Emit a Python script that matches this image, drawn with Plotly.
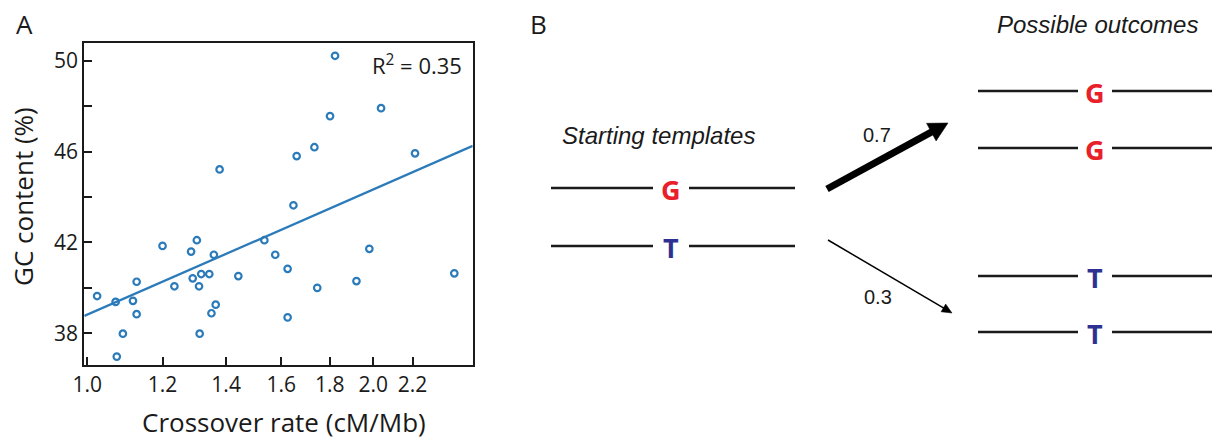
import numpy as np
import plotly.graph_objects as go

# ---------------- Panel A data: crossover rate vs GC content ----------------
crossover_rate = [
    1.823, 2.038, 1.801, 1.734, 1.661, 2.213, 1.378, 1.648, 1.304, 1.536,
    1.200, 1.286, 1.359, 1.577, 1.981, 1.625, 2.434, 1.318, 1.344, 1.291,
    1.442, 1.127, 1.920, 1.235, 1.311, 1.746, 1.024, 1.071, 1.117, 1.365,
    1.127, 1.351, 1.625, 1.090, 1.313, 1.074,
]
gc_content = [
    50.23, 47.92, 47.57, 46.20, 45.81, 45.93, 45.22, 43.64, 42.10, 42.10,
    41.85, 41.60, 41.46, 41.46, 41.72, 40.84, 40.64, 40.61, 40.61, 40.42,
    40.52, 40.27, 40.30, 40.07, 40.07, 40.00, 39.64, 39.38, 39.43, 39.26,
    38.84, 38.88, 38.70, 37.98, 37.98, 36.97,
]

# Regression of GC content on log10(crossover rate)
fit_intercept = 38.82
fit_slope = 18.34
r_squared = 0.35

x_tick_values = [1.0, 1.2, 1.4, 1.6, 1.8, 2.0, 2.2]
x_tick_labels = ["1.0", "1.2", "1.4", "1.6", "1.8", "2.0", "2.2"]
y_tick_values = [38, 42, 46, 50]
y_minor_tick_values = [40, 44, 48]

# ---------------- Panel B data: template outcomes ----------------
start_alleles = ["G", "T"]
outcome_alleles = ["G", "G", "T", "T"]
transition_probs = [0.7, 0.3]

# ---------------- canvas helpers ----------------
W, H = 1217, 444
BLUE = "#2b7bba"
INK = "#1a1a1a"
ALLELE_COLOURS = {"G": "#e8202a", "T": "#2e3192"}
MYRIAD_LIKE = "Open Sans, Noto Sans, sans-serif"
HELV_LIKE = "Liberation Sans, Arial, sans-serif"


def fx(px):
    return px / W


def fy(py):
    return 1 - py / H


x_range = [np.log10(0.9927), np.log10(2.545)]
y_range = [36.6, 50.78]

fig = go.Figure()

fig.add_trace(go.Scatter(
    x=crossover_rate, y=gc_content, mode="markers",
    marker=dict(symbol="circle-open", size=6.5, color=BLUE, line=dict(width=2.2, color=BLUE)),
    showlegend=False, hoverinfo="x+y",
))

line_x = np.logspace(x_range[0], x_range[1], 50)
line_y = fit_intercept + fit_slope * np.log10(line_x)
fig.add_trace(go.Scatter(
    x=line_x, y=line_y, mode="lines",
    line=dict(color=BLUE, width=2.3), showlegend=False, hoverinfo="skip",
))

tick_style = dict(ticks="inside", ticklen=8, tickwidth=2, tickcolor=INK)
axis_common = dict(
    showline=True, linecolor=INK, linewidth=2, mirror=True,
    showgrid=False, zeroline=False, automargin=False,
    tickfont=dict(family=MYRIAD_LIKE, size=21, color=INK),
    **tick_style,
)

fig.update_layout(
    width=W, height=H,
    margin=dict(l=0, r=0, t=0, b=0, autoexpand=False),
    paper_bgcolor="white", plot_bgcolor="white",
    xaxis=dict(
        type="log", range=x_range, domain=[fx(84.3), fx(472.7)],
        tickvals=x_tick_values, ticktext=x_tick_labels, **axis_common,
    ),
    yaxis=dict(
        range=y_range, domain=[fy(365), fy(43.3)],
        tickvals=y_tick_values,
        minor=dict(tickvals=y_minor_tick_values, showgrid=False, **tick_style),
        **axis_common,
    ),
)

annotations = []
shapes = []


def text(px, py, s, size, family=MYRIAD_LIKE, color=INK, angle=0, italic=False, bold=False, xanchor="center"):
    annotations.append(dict(
        x=fx(px), y=fy(py), xref="paper", yref="paper", text=s, showarrow=False,
        xanchor=xanchor, yanchor="middle", textangle=angle,
        font=dict(family=family, size=size, color=color,
                  style="italic" if italic else "normal",
                  weight="bold" if bold else "normal"),
    ))


# Panel A labels
text(24, 24, "A", 26)
text(284, 422, "Crossover rate (cM/Mb)", 26)
text(23, 197, "GC content (%)", 26, angle=-90)
text(464, 65, f"R<sup>2</sup> = {r_squared:.2f}", 22, xanchor="right")

# Panel B labels
text(538, 24, "B", 26)
text(658, 135, "Starting templates", 24, family=HELV_LIKE, italic=True)
text(1097, 25, "Possible outcomes", 24, family=HELV_LIKE, italic=True)


def template(cx, cy, allele, left, right, gap):
    for x0, x1 in ((left, cx - gap), (cx + gap, right)):
        shapes.append(dict(type="line", xref="paper", yref="paper",
                           x0=fx(x0), x1=fx(x1), y0=fy(cy), y1=fy(cy),
                           line=dict(color=INK, width=2.5)))
    text(cx, cy + 1, allele, 27, color=ALLELE_COLOURS[allele], bold=True)


start_rows = [188, 246]
for allele, cy in zip(start_alleles, start_rows):
    template(671, cy, allele, 551, 795, 18)

outcome_rows = [91, 148, 276, 332]
for allele, cy in zip(outcome_alleles, outcome_rows):
    template(1095, cy, allele, 978, 1212, 17)


def arrow(tail, tip, width, head_len, head_half):
    """Straight shaft plus a filled triangular head, laid out in pixels."""
    tail = np.asarray(tail, float)
    tip = np.asarray(tip, float)
    d = (tip - tail) / np.linalg.norm(tip - tail)
    n = np.array([-d[1], d[0]])
    base = tip - d * head_len
    shaft_end = base + d * 1.5
    shapes.append(dict(type="line", xref="paper", yref="paper",
                       x0=fx(tail[0]), y0=fy(tail[1]),
                       x1=fx(shaft_end[0]), y1=fy(shaft_end[1]),
                       line=dict(color="black", width=width)))
    corners = [tip, base + n * head_half, base - n * head_half]
    path = "M " + " L ".join(f"{fx(px):.6f},{fy(py):.6f}" for px, py in corners) + " Z"
    shapes.append(dict(type="path", xref="paper", yref="paper", path=path,
                       fillcolor="black", line=dict(color="black", width=0.5)))


# Arrows from the templates to the outcomes, labelled by probability
arrow_specs = [
    # (tail, tip, shaft width, head length, head half-width, label position)
    ((827, 189), (948, 123), 7, 19, 10, (877, 135)),
    ((828, 240), (952, 313), 1.5, 10, 4.5, (878, 297)),
]
for p, (tail, tip, w, hl, hh, lab) in zip(transition_probs, arrow_specs):
    arrow(tail, tip, w, hl, hh)
    text(lab[0], lab[1], f"{p:.1f}", 20, family=HELV_LIKE)

fig.update_layout(annotations=annotations, shapes=shapes)

fig.write_html("out.html")
